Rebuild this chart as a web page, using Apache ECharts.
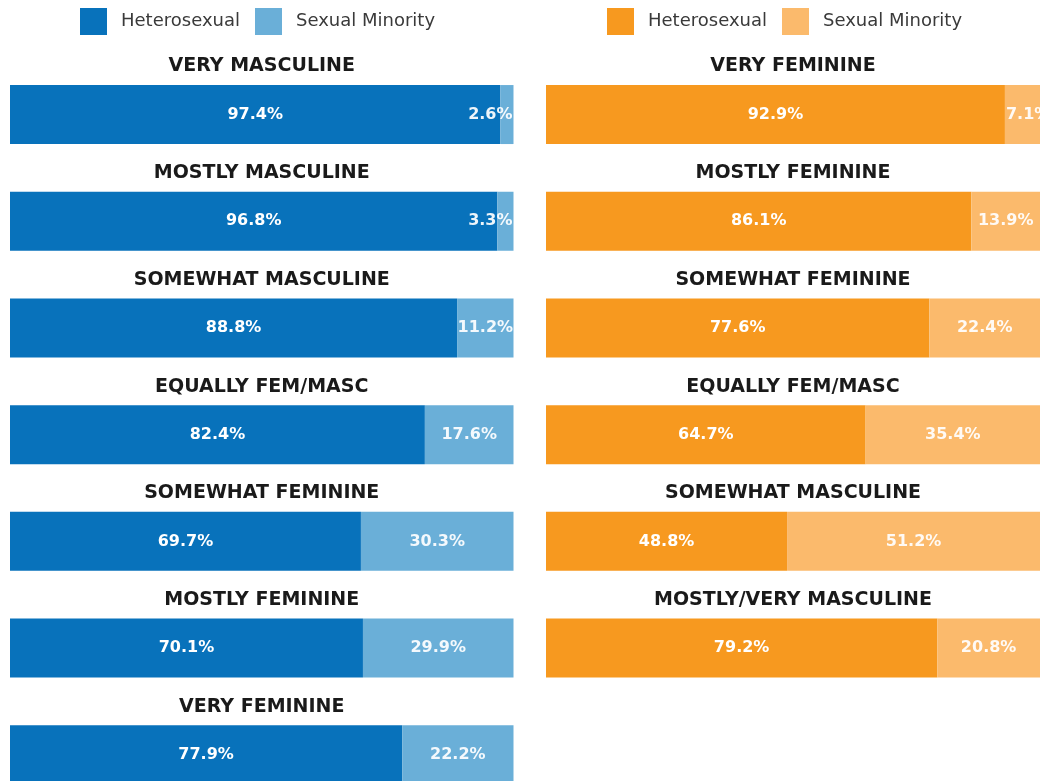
<!DOCTYPE html>
<html>
<head>
<meta charset="utf-8">
<script src="https://cdn.jsdelivr.net/npm/echarts@6/dist/echarts.min.js"></script>
<style>
  html, body {margin: 0; padding: 0; background: #fff;}
  #chart {width: 1040px; height: 781px;}
</style>
</head>
<body>
<div id="chart"></div>
<script>
// left panel: men's gender expression
let leftCats = ['VERY MASCULINE', 'MOSTLY MASCULINE', 'SOMEWHAT MASCULINE', 'EQUALLY FEM/MASC',
  'SOMEWHAT FEMININE', 'MOSTLY FEMININE', 'VERY FEMININE'];
let leftHetero = [97.4, 96.8, 88.8, 82.4, 69.7, 70.1, 77.9];
let leftMinority = [2.6, 3.3, 11.2, 17.6, 30.3, 29.9, 22.2];

// right panel: women's gender expression
let rightCats = ['VERY FEMININE', 'MOSTLY FEMININE', 'SOMEWHAT FEMININE', 'EQUALLY FEM/MASC',
  'SOMEWHAT MASCULINE', 'MOSTLY/VERY MASCULINE'];
let rightHetero = [92.9, 86.1, 77.6, 64.7, 48.8, 79.2];
let rightMinority = [7.1, 13.9, 22.4, 35.4, 51.2, 20.8];

let legendNames = ['Heterosexual', 'Sexual Minority'];

let font = 'DejaVu Sans';
let rowH = 106.7;
let barW = 59;

let myChart = echarts.init(document.getElementById('chart'));

// small segments get their label pushed to one edge
function segData(values, edgePos) {
  return values.map(v => v < 8 ? {value: v, label: {position: edgePos, distance: 1}} : v);
}

function panelSeries(idx, cats, hetero, minority, colors, edgePos, tag) {
  let valueLabel = {
    show: true,
    position: 'inside',
    fontFamily: font,
    fontWeight: 'bold',
    fontSize: 16,
    formatter: p => p.value + '%'
  };
  return [
    {
      // invisible full-width bar, only carries the row title
      name: 'title' + idx,
      type: 'bar',
      xAxisIndex: idx, yAxisIndex: idx,
      data: cats.map(() => 100),
      barWidth: barW,
      barGap: '-100%',
      itemStyle: {color: 'rgba(0,0,0,0)'},
      label: {
        show: true,
        position: 'top',
        distance: 9,
        formatter: '{b}',
        fontFamily: font,
        fontWeight: 'bold',
        fontSize: 19,
        color: '#1a1a1a'
      },
      silent: true
    },
    {
      name: legendNames[0] + tag,
      type: 'bar',
      stack: 'p' + idx,
      xAxisIndex: idx, yAxisIndex: idx,
      data: hetero,
      barWidth: barW,
      barGap: '-100%',
      itemStyle: {color: colors[0]},
      label: Object.assign({color: '#fff'}, valueLabel)
    },
    {
      name: legendNames[1] + tag,
      type: 'bar',
      stack: 'p' + idx,
      xAxisIndex: idx, yAxisIndex: idx,
      data: segData(minority, edgePos),
      barWidth: barW,
      barGap: '-100%',
      itemStyle: {color: colors[1]},
      label: Object.assign({color: 'rgba(255,255,255,0.93)'}, valueLabel)
    }
  ];
}

let blue = ['#0872bb', '#6aafd8'];
let orange = ['#f7991f', '#fbba6c'];

let legendBase = {
  top: 8,
  padding: 0,
  icon: 'rect',
  itemWidth: 27,
  itemHeight: 27,
  itemGap: 15,
  selectedMode: false,
  formatter: name => name.replace(/ \(.\)$/, ''),
  textStyle: {fontFamily: font, fontSize: 18, color: '#3a3a3a', padding: [0, 0, 0, 9]}
};

let option = {
  animation: false,
  legend: [
    Object.assign({left: 80, data: legendNames.map(n => n + ' (M)')}, legendBase),
    Object.assign({left: 607, data: legendNames.map(n => n + ' (F)')}, legendBase)
  ],
  grid: [
    {left: 10, top: 61.2, width: 503.5, height: rowH * leftCats.length, outerBoundsMode: 'none'},
    {left: 546, top: 61.2, width: 494, height: rowH * rightCats.length, outerBoundsMode: 'none'}
  ],
  xAxis: [
    {type: 'value', gridIndex: 0, min: 0, max: 100, show: false},
    {type: 'value', gridIndex: 1, min: 0, max: 100, show: false}
  ],
  yAxis: [
    {type: 'category', gridIndex: 0, inverse: true, data: leftCats, show: false},
    {type: 'category', gridIndex: 1, inverse: true, data: rightCats, show: false}
  ],
  series: [].concat(
    panelSeries(0, leftCats, leftHetero, leftMinority, blue, 'insideRight', ' (M)'),
    panelSeries(1, rightCats, rightHetero, rightMinority, orange, 'insideLeft', ' (F)')
  )
};
myChart.setOption(option);
</script>
</body>
</html>
